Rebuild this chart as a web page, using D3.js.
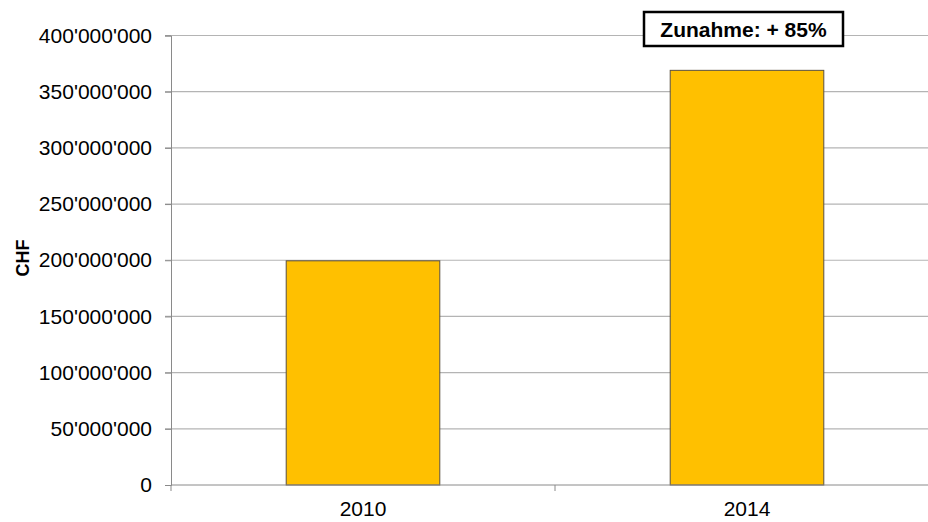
<!DOCTYPE html>
<html>
<head>
<meta charset="utf-8">
<script src="https://cdn.jsdelivr.net/npm/d3@7"></script>
<style>
  body { margin: 0; background: #fff; }
  text { font-family: "Liberation Sans", Arial, sans-serif; fill: #000; }
  .tick-label { font-size: 21px; }
</style>
</head>
<body>
<div id="chart"></div>
<script>
// data
const years = ["2010", "2014"];
const amounts = [199500000, 369000000];
const yTicks = [0, 50000000, 100000000, 150000000, 200000000, 250000000, 300000000, 350000000, 400000000];
const note = "Zunahme: + 85%";

// dimensions
const width = 928, height = 522;
const plot = {left: 171, right: 939, top: 35.5, bottom: 485};

const svg = d3.select("#chart")
  .append("svg")
    .attr("width", width)
    .attr("height", height);

// swiss style thousands separator
const fmt = d => d3.format(",")(d).replace(/,/g, "'");

const x = d3.scaleBand()
  .domain(years)
  .range([plot.left, plot.right])
  .padding(0);

const y = d3.scaleLinear()
  .domain([0, 400000000])
  .range([plot.bottom, plot.top]);

// gridlines
svg.append("g")
  .selectAll("line")
  .data(yTicks.filter(d => d > 0))
  .join("line")
    .attr("x1", plot.left - 6)
    .attr("x2", width)
    .attr("y1", d => y(d))
    .attr("y2", d => y(d))
    .attr("stroke", "#b4b4b4")
    .attr("stroke-width", 1.2);

// Y axis
const yAxis = svg.append("g")
  .attr("transform", `translate(${plot.left},0)`)
  .call(d3.axisLeft(y)
    .tickValues(yTicks)
    .tickSize(6)
    .tickPadding(13)
    .tickFormat(fmt));
yAxis.select(".domain").attr("stroke", "#8a8a8a");
yAxis.selectAll(".tick line").attr("stroke", "#8a8a8a");
yAxis.selectAll(".tick text")
  .attr("class", "tick-label")
  .attr("font-family", null)
  .attr("font-size", null)
  .attr("fill", "#000");

// bars
svg.append("g")
  .selectAll("rect")
  .data(years.map((yr, i) => ({year: yr, value: amounts[i]})))
  .join("rect")
    .attr("x", d => x(d.year) + x.bandwidth() * 0.3)
    .attr("width", x.bandwidth() * 0.4)
    .attr("y", d => y(d.value))
    .attr("height", d => y(0) - y(d.value))
    .attr("fill", "#FFC000")
    .attr("stroke", "#5a5040")
    .attr("stroke-width", 1);

// X axis
const xAxis = svg.append("g")
  .attr("transform", `translate(0,${plot.bottom})`)
  .call(d3.axisBottom(x).tickSize(0).tickPadding(16));
xAxis.select(".domain").attr("stroke", "#8a8a8a").attr("d", `M${plot.left},0H${width}`);
xAxis.selectAll(".tick text")
  .attr("class", "tick-label")
  .attr("font-family", null)
  .attr("font-size", null)
  .attr("fill", "#000");

// category separator ticks
svg.append("g")
  .selectAll("line")
  .data([plot.left, ...years.map(d => x(d) + x.bandwidth())])
  .join("line")
    .attr("x1", d => d)
    .attr("x2", d => d)
    .attr("y1", plot.bottom)
    .attr("y2", plot.bottom + 6)
    .attr("stroke", "#8a8a8a");

// y axis title
svg.append("text")
  .attr("transform", `translate(29,258) rotate(-90)`)
  .attr("text-anchor", "middle")
  .style("font-size", "18px")
  .style("font-weight", "bold")
  .text("CHF");

// annotation box
const box = svg.append("g");
box.append("rect")
  .attr("x", 644)
  .attr("y", 12)
  .attr("width", 199)
  .attr("height", 34)
  .attr("fill", "#fff")
  .attr("stroke", "#000")
  .attr("stroke-width", 2.5);
box.append("text")
  .attr("x", 743.5)
  .attr("y", 36.5)
  .attr("text-anchor", "middle")
  .style("font-size", "21px")
  .style("font-weight", "bold")
  .text(note);
</script>
</body>
</html>
